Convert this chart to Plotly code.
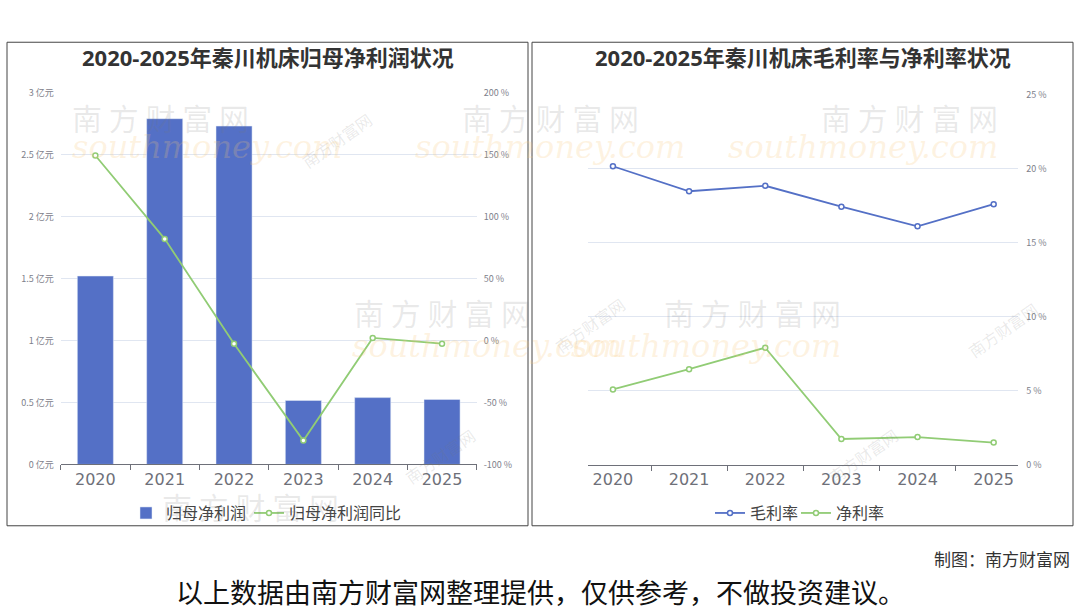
import plotly.graph_objects as go

years = ["2020", "2021", "2022", "2023", "2024", "2025"]
net_profit = [1.52, 2.79, 2.73, 0.516, 0.539, 0.524]          # 亿元
net_profit_yoy = [149.3, 82.0, -2.6, -80.8, 2.1, -2.6]          # %
gross_margin = [20.16, 18.47, 18.84, 17.43, 16.10, 17.60]        # %
net_margin = [5.08, 6.45, 7.90, 1.73, 1.86, 1.49]                # %

left_ticks = [0, 0.5, 1, 1.5, 2, 2.5, 3]
left_ticktext = ["0 亿元", "0.5 亿元", "1 亿元", "1.5 亿元", "2 亿元", "2.5 亿元", "3 亿元"]
yoy_ticks = [-100, -50, 0, 50, 100, 150, 200]
margin_ticks = [0, 5, 10, 15, 20, 25]

title_left = "2020-2025年秦川机床归母净利润状况"
title_right = "2020-2025年秦川机床毛利率与净利率状况"

W, H = 1080, 614
FONT = "Noto Sans CJK SC"
BLUE = "#5470c6"
GREEN = "#91cc75"
AXIS = "#6e7079"
GRID = "#e0e6f1"

def px(x):
    return x / W

def py(y):
    return 1 - y / H

mk = lambda c: dict(symbol="circle", size=5, color="white", line=dict(color=c, width=1.5))

fig = go.Figure()
fig.add_trace(go.Bar(x=years, y=net_profit, name="归母净利润", marker_color=BLUE,
                     width=0.52, xaxis="x", yaxis="y", legend="legend"))
fig.add_trace(go.Scatter(x=years, y=net_profit_yoy, name="归母净利润同比", mode="lines+markers",
                         line=dict(color=GREEN, width=1.8), marker=mk(GREEN),
                         xaxis="x", yaxis="y2", legend="legend3"))
fig.add_trace(go.Scatter(x=years, y=gross_margin, name="毛利率", mode="lines+markers",
                         line=dict(color=BLUE, width=1.8), marker=mk(BLUE),
                         xaxis="x2", yaxis="y3", legend="legend2"))
fig.add_trace(go.Scatter(x=years, y=net_margin, name="净利率", mode="lines+markers",
                         line=dict(color=GREEN, width=1.8), marker=mk(GREEN),
                         xaxis="x2", yaxis="y3", legend="legend4"))

xcommon = dict(type="category", showline=True, linecolor=AXIS, linewidth=1,
               ticks="outside", ticklen=5, tickcolor=AXIS, tickson="boundaries",
               tickfont=dict(size=16, color=AXIS, family="DejaVu Sans"), showgrid=False, zeroline=False,
               fixedrange=True)
ytickfont = dict(size=9, color="#7d808a", family=FONT)

left_dom_y = [py(467.3), py(87.5)]
right_dom_y = [py(467.5), py(89.5)]

legend_font = dict(size=16, color="#444", family=FONT)

def leg(x):
    return dict(orientation="h", x=px(x), xanchor="left", y=py(517), yanchor="middle",
                font=legend_font, bgcolor="rgba(0,0,0,0)", itemwidth=30)

fig.update_layout(
    width=W, height=H, margin=dict(l=0, r=0, t=0, b=0),
    paper_bgcolor="white", plot_bgcolor="rgba(0,0,0,0)",
    font=dict(family=FONT),
    xaxis=dict(domain=[px(60.7), px(476.7)], anchor="y", **xcommon),
    yaxis=dict(domain=left_dom_y, anchor="x", range=[0, 3], tickvals=left_ticks, ticktext=left_ticktext,
               showgrid=True, gridcolor=GRID, gridwidth=1, zeroline=False, showline=False,
               tickfont=ytickfont, ticklabelstandoff=6),
    yaxis2=dict(overlaying="y", side="right", anchor="x", range=[-100, 200], tickvals=yoy_ticks,
                ticktext=[f"{v} %" for v in yoy_ticks], showgrid=False, zeroline=False, showline=False,
                tickfont=ytickfont, ticklabelstandoff=6),
    xaxis2=dict(domain=[px(588.3), px(1018.3)], anchor="y3", **xcommon),
    yaxis3=dict(domain=right_dom_y, anchor="x2", side="right", range=[0, 25], tickvals=margin_ticks,
                ticktext=[f"{v} %" for v in margin_ticks], showgrid=True, gridcolor=GRID, gridwidth=1,
                zeroline=False, showline=False, tickfont=ytickfont, ticklabelstandoff=7),
    legend=leg(126),
    legend3=leg(249),
    legend2=leg(710),
    legend4=leg(796),
    showlegend=True,
)

# panel borders
for x0, x1 in [(7, 528), (532, 1073)]:
    fig.add_shape(type="rect", xref="paper", yref="paper", x0=px(x0), x1=px(x1), y0=py(530), y1=py(36),
                  line=dict(color="#444", width=1), fillcolor="rgba(0,0,0,0)", layer="above")

# watermarks
wm_cn = [(70, 88, 0), (550, 88, 0), (1000, 88, 0), (352, 312, 0), (843, 312, 0), (160, 534, 0),
         (295, 100, -35), (590, 325, -35), (1045, 330, -35), (440, 495, -35), (905, 495, -35)]
for x, y, ang in wm_cn:
    size = 30 if ang == 0 else 16
    fig.add_annotation(x=px(x), y=py(y), xref="paper", yref="paper",
                       text="南 方 财 富 网" if ang == 0 else "南方财富网",
                       showarrow=False, textangle=ang,
                       font=dict(size=size, color="rgba(120,120,120,0.16)", family=FONT))
wm_en = [(70, 122), (550, 122), (1000, 122), (350, 346), (843, 346)]
for x, y in wm_en:
    fig.add_annotation(x=px(x), y=py(y), xref="paper", yref="paper", text="<i>southmoney.com</i>",
                       showarrow=False, font=dict(size=32, color="rgba(250,200,120,0.22)", family="DejaVu Serif"))

# titles
for cx, t in [(268, title_left), (803, title_right)]:
    fig.add_annotation(x=px(cx), y=py(51), xref="paper", yref="paper", text=f"<b>{t}</b>", showarrow=False,
                       font=dict(size=22, color="#333", family="Open Sans, Noto Sans CJK SC"),
                       xanchor="center", yanchor="middle")

fig.add_annotation(x=px(1072), y=py(563), xref="paper", yref="paper", text="制图：南方财富网", showarrow=False,
                   xanchor="right", yanchor="middle", font=dict(size=17, color="#333", family=FONT))
fig.add_annotation(x=px(540), y=py(597), xref="paper", yref="paper",
                   text="以上数据由南方财富网整理提供，仅供参考，不做投资建议。", showarrow=False,
                   xanchor="center", yanchor="middle", font=dict(size=27, color="#111", family=FONT))

fig.write_html("out.html")
